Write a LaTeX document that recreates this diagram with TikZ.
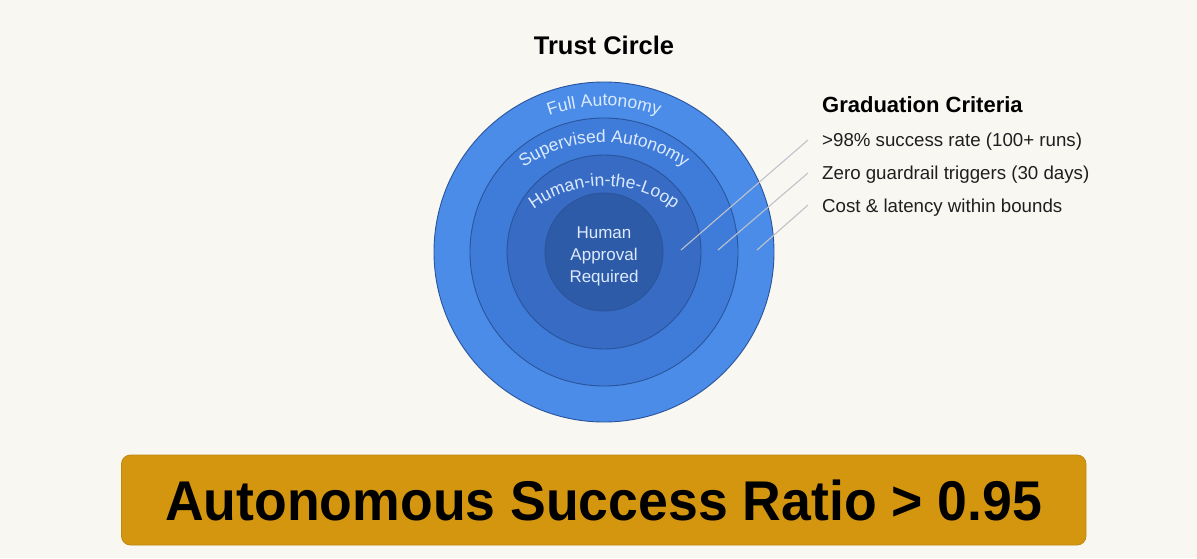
\documentclass[tikz,border=0pt]{standalone}
\usepackage{fontspec}
\setmainfont{Liberation Sans}
\usetikzlibrary{decorations.text,calc}
\definecolor{bg}{HTML}{F9F7F2}
\definecolor{ringA}{HTML}{4A8CE8}
\definecolor{ringB}{HTML}{3F7CD9}
\definecolor{ringC}{HTML}{376BC4}
\definecolor{ringD}{HTML}{2E5BA8}
\definecolor{ringline}{HTML}{2A549C}
\definecolor{lbl}{HTML}{DCEAFF}
\definecolor{gold}{HTML}{D4960F}
\definecolor{goldline}{HTML}{C08810}
\definecolor{pointer}{HTML}{BFC3C9}
\tikzset{
  ring/.style={draw=ringline, line width=0.9pt},
  ringlabel/.style={decorate, decoration={text along path, text align=center, text color=lbl}},
  pointerline/.style={draw=pointer, line width=1.1pt},
  crit/.style={anchor=base west, inner sep=0pt, font=\fontsize{18.7}{22}\selectfont, text=black!88},
}
\begin{document}
\begin{tikzpicture}[x=1pt,y=1pt]
\fill[bg] (0,0) rectangle (1197,558);
\useasboundingbox (0,0) rectangle (1197,558);

% title
\node[anchor=base, inner sep=0pt, font=\fontsize{25.5}{30}\selectfont\bfseries] (title) at (604,503) {Trust Circle};

% circles
\coordinate (C) at (604,306);
\fill[ringA, ring] (C) circle[radius=170];
\fill[ringB, ring] (C) circle[radius=134];
\fill[ringC, ring] (C) circle[radius=97];
\fill[ringD, ring] (C) circle[radius=59];

% ring labels
\path[ringlabel, decoration={text={|\fontsize{17.5}{20}\selectfont|Full Autonomy}}]
  ($(C)+(0,-17)+(140:163)$) arc[start angle=140, end angle=40, radius=163];
\path[ringlabel, decoration={text={|\fontsize{17.5}{20}\selectfont|Supervised Autonomy}}]
  ($(C)+(0,-29)+(145:139)$) arc[start angle=145, end angle=35, radius=139];
\path[ringlabel, decoration={text={|\fontsize{17.5}{20}\selectfont|Human-in-the-Loop}}]
  ($(C)+(0,-51)+(150:117)$) arc[start angle=150, end angle=30, radius=117];

% centre text
\node[align=center, inner sep=0pt, text=lbl, font=\fontsize{17}{22}\selectfont] (core) at (604,302) {Human\\Approval\\Required};

% graduation criteria
\node[anchor=base west, inner sep=0pt, font=\fontsize{22}{26}\selectfont\bfseries] (grad) at (822,445.5) {Graduation Criteria};
\node[crit] (c1) at (822,411.5) {>98\% success rate (100+ runs)};
\node[crit] (c2) at (822,378) {Zero guardrail triggers (30 days)};
\node[crit] (c3) at (822,345.5) {Cost \& latency within bounds};

% pointer lines
\coordinate (p1a) at (808,418);
\coordinate (p1b) at (681,308);
\coordinate (p2a) at (808,385);
\coordinate (p2b) at (718,308);
\coordinate (p3a) at (808,353);
\coordinate (p3b) at (757,308);
\draw[pointerline] (p1a) -- (p1b);
\draw[pointerline] (p2a) -- (p2b);
\draw[pointerline] (p3a) -- (p3b);

% banner
\node[fill=gold, draw=goldline, line width=0.8pt, rounded corners=9pt, minimum width=964.5pt, minimum height=90pt, inner sep=0pt] (banner) at (603.75,58)
  {\scalebox{0.957}[1]{\fontsize{56}{60}\selectfont\bfseries Autonomous Success Ratio > 0.95}};
\end{tikzpicture}
\end{document}
